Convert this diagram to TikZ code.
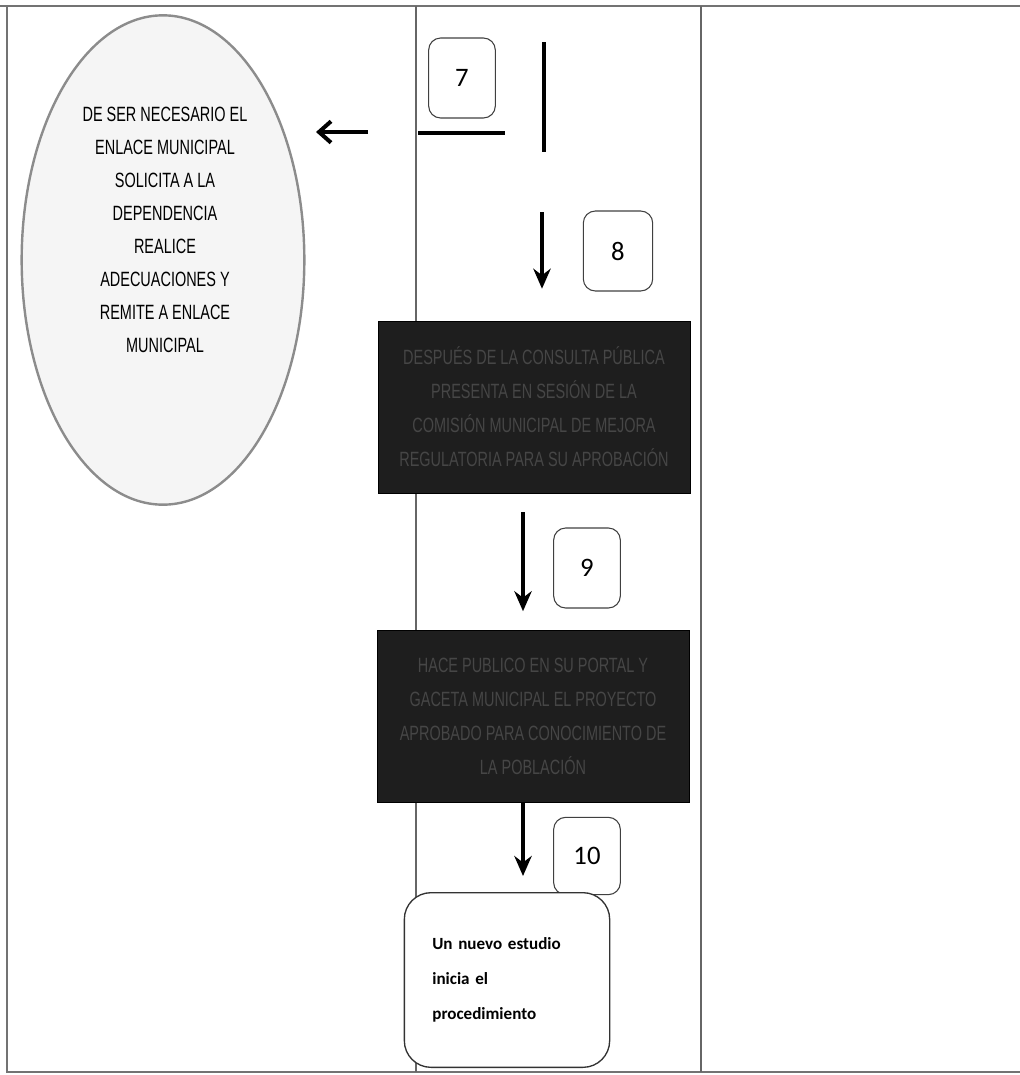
\documentclass[tikz,border=0pt]{standalone}
\usepackage{fontspec}
\newfontfamily\narrowsans[FakeStretch=0.7]{Liberation Sans}
\newfontfamily\calibri{Carlito}
\usetikzlibrary{shapes.geometric,arrows.meta}

\begin{document}
\begin{tikzpicture}[x=0.75pt,y=-0.75pt,
  frameline/.style={draw=black!55, line width=1pt},
  colline/.style={draw=black!60, line width=0.8pt},
  numbox/.style={draw=black!75, line width=0.8pt, rounded corners=9pt,
    minimum width=50pt, minimum height=60pt, inner sep=0pt,
    font=\calibri\fontsize{20}{24}\selectfont},
  darkbox/.style={fill={rgb,255:red,30;green,30;blue,30}, draw=black,
    minimum width=234pt, minimum height=129pt, inner sep=0pt, align=center,
    text={rgb,255:red,70;green,70;blue,70},
    font=\narrowsans\fontsize{15.5}{25.5}\selectfont},
  flowarrow/.style={line width=3pt, -{Stealth[length=15pt,width=13pt]}},
  bar/.style={line width=3pt}]
\useasboundingbox (0,0) rectangle (1020,1075);

\draw[frameline, line width=1.8pt] (0,6) -- (1020,6);
\draw[frameline] (7,6) -- (7,1072) -- (1020,1072);
\draw[colline] (416,6) -- (416,1072);
\draw[colline] (701,6) -- (701,1072);

\node[ellipse, draw=black!45, line width=1.8pt, fill=black!4,
  minimum width=212pt, minimum height=367pt, inner sep=0pt] (adecua) at (163,260) {};
\node[align=center, font=\narrowsans\fontsize{15.5}{24.75}\selectfont] (adecuatxt) at (165,230)
  {DE SER NECESARIO EL\\ENLACE MUNICIPAL\\SOLICITA A LA\\DEPENDENCIA\\REALICE\\
   ADECUACIONES Y\\REMITE A ENLACE\\MUNICIPAL};

\node[numbox] (n7) at (462,78) {7};
\node[numbox, minimum width=52pt] (n8) at (618,251) {8};
\node[numbox] (n9) at (587,568) {9};
\node[numbox, minimum height=58pt] (n10) at (587,856) {10};

\node[darkbox] (sesion) at (534,407)
  {DESPUÉS DE LA CONSULTA PÚBLICA\\PRESENTA EN SESIÓN DE LA\\
   COMISIÓN MUNICIPAL DE MEJORA\\REGULATORIA PARA SU APROBACIÓN};
\node[darkbox] (publica) at (533,716)
  {HACE PUBLICO EN SU PORTAL Y\\GACETA MUNICIPAL EL PROYECTO\\
   APROBADO PARA CONOCIMIENTO DE\\LA POBLACIÓN};

\node[draw=black!80, line width=1pt, rounded corners=20pt, fill=white,
  minimum width=154pt, minimum height=131pt, text width=112pt, inner sep=0pt,
  align=left, font=\calibri\bfseries\fontsize{12.8}{26}\selectfont] (nuevo) at (507,980)
  {Un nuevo estudio\\inicia el\\procedimiento};

\coordinate (h7a) at (418,133);
\coordinate (h7b) at (505,133);
\coordinate (v7a) at (544,42);
\coordinate (v7b) at (544,152);
\coordinate (back) at (368,132);
\coordinate (a8) at (542,212);
\coordinate (a9) at (523,512);
\coordinate (a10) at (523,803);

\draw[bar] (h7a) -- (h7b);
\draw[bar] (v7a) -- (v7b);
\draw[line width=3pt, -{Straight Barb[length=9pt,width=16pt,line width=3pt]}] (back) -- (316,132);
\draw[flowarrow] (a8) -- ([yshift=24pt]sesion.north -| a8);
\draw[flowarrow] (a9) -- ([yshift=-2pt]n9.south -| a9);
\draw[flowarrow] (a10) -- ([yshift=12pt]nuevo.north -| a10);
\end{tikzpicture}
\end{document}
